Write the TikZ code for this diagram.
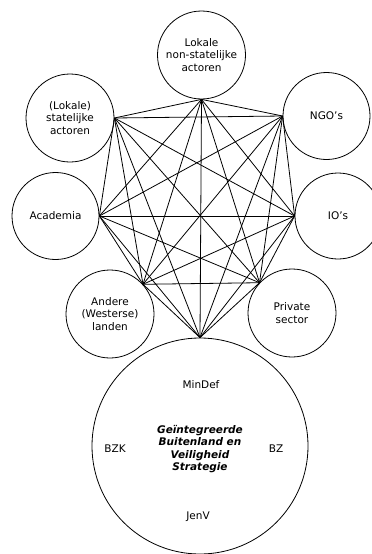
\documentclass[tikz,border=0pt]{standalone}
\usepackage{fontspec}
\setmainfont{DejaVu Sans}

\begin{document}
\begin{tikzpicture}[
    x=1pt, y=-1pt,
    actor/.style={circle, draw, line width=0.8pt, minimum size=88pt, inner sep=0pt, align=center, font=\fontsize{10.5}{12.5}\selectfont},
    ministry/.style={inner sep=0pt, font=\fontsize{10.5}{12.5}\selectfont},
    link/.style={line width=0.8pt}
]
\useasboundingbox (0,0) rectangle (372,554);

% Actors round the strategy
\node[actor] (lokaal) at (201.5,55) {Lokale\\non-statelijke\\actoren};
\node[actor] (staat) at (70,118) {(Lokale)\\statelijke\\actoren};
\node[actor, minimum size=87pt] (ngo) at (326.5,116) {NGO's};
\node[actor, minimum size=87pt] (academia) at (55.5,216) {Academia};
\node[actor, minimum size=86pt] (io) at (338,216) {IO's};
\node[actor] (andere) at (110,314) {Andere\\(Westerse)\\landen};
\node[actor] (privaat) at (292,313) {Private\\sector};

% Central strategy
\node[actor, minimum size=216pt] (strategie) at (200,446) {};
\node[ministry, font=\fontsize{10.5}{12.5}\bfseries\itshape, align=center] (gbvs) at (200,449) {Geïntegreerde\\Buitenland en\\Veiligheid\\Strategie};
\node[ministry] (mindef) at (201,385) {MinDef};
\node[ministry] (bzk) at (115,449) {BZK};
\node[ministry] (bz) at (276,449) {BZ};
\node[ministry] (jenv) at (198,517) {JenV};

% Contact points
\coordinate (p1) at (lokaal.south);
\coordinate (p2) at (staat.east);
\coordinate (p3) at (ngo.west);
\coordinate (p4) at (academia.east);
\coordinate (p5) at (io.west);
\coordinate (p6) at (andere.42);
\coordinate (p7) at (privaat.137);
\coordinate (p8) at (strategie.north);

% Every actor linked to every other
\foreach \i [evaluate=\i as \k using int(\i+1)] in {1,...,7} {
  \foreach \j in {\k,...,8} {
    \draw[link] (p\i) -- (p\j);
  }
}

\end{tikzpicture}
\end{document}
